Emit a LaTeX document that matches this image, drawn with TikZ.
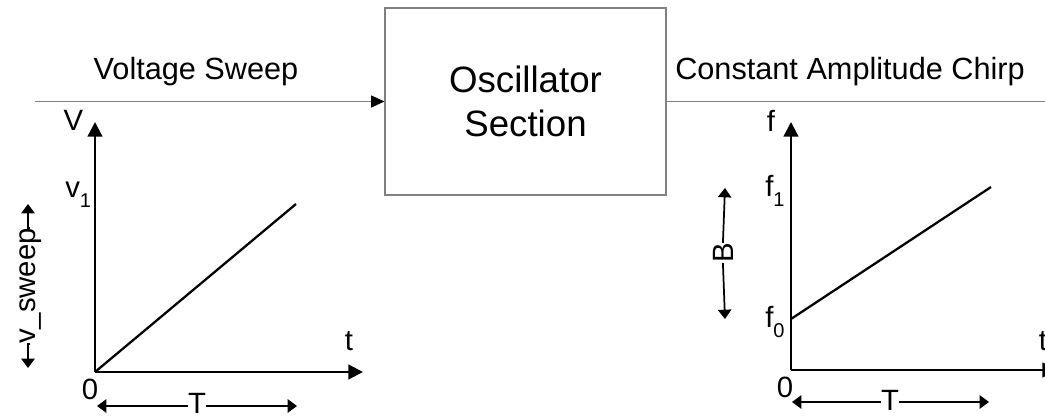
\documentclass[tikz,border=0pt]{standalone}
\usepackage{fontspec}
\setmainfont{Liberation Sans}
\usetikzlibrary{arrows.meta}
\definecolor{wirecol}{gray}{0.5}
\newcommand{\lowsub}[1]{\raisebox{-7pt}{\fontsize{15}{15}\selectfont #1}}

\begin{document}
\begin{tikzpicture}[x=0.75pt,y=-0.75pt]
\tikzstyle{every node}+=[inner sep=0pt]
\tikzstyle{title}=[font=\fontsize{23}{27}\selectfont]
\tikzstyle{lbl}=[font=\fontsize{22}{26}\selectfont]
\tikzstyle{wire}=[draw=wirecol,line width=0.8pt]
\tikzstyle{axis}=[line width=1.7pt,-{Triangle[length=11pt,width=11pt]}]
\tikzstyle{ramp}=[line width=1.7pt]
\tikzstyle{span}=[line width=1.3pt,-{Triangle[length=7pt,width=10pt]}]
\useasboundingbox (0,0) rectangle (1045,416);

\node (osc) [wire,minimum width=210.75pt,minimum height=140.25pt,align=center,font=\fontsize{27.5}{33}\selectfont] at (525.5,101.5) {Oscillator\\Section};
\coordinate (in) at (35,101.5);
\coordinate (out) at (1045,101.5);
\draw [wire,-{Triangle[length=10pt,width=9pt,color=black]}] (in) -- (osc.west);
\draw [wire] (osc.east) -- (out);
\node (sweep) [title,anchor=base] at (196,80) {Voltage Sweep};
\node (chirp) [title,anchor=base] at (850,80) {Constant Amplitude Chirp};

\coordinate (o1) at (95,372);
\coordinate (vtop) at (95,122);
\coordinate (tend1) at (363,372);
\coordinate (vend) at (296,204);
\draw [axis] (o1) -- (vtop);
\draw [axis] (o1) -- (tend1);
\draw [ramp] (o1) -- (vend);
\node (vlab) [lbl] at (73.5,120) {V};
\node (v1lab) [lbl,anchor=base west] at (65,198) {v\lowsub{1}};
\node (tlab1) [lbl] at (349,341) {t};
\node (zero1) [lbl] at (90,389) {0};
\node (T1) [lbl] at (197,403) {T};
\coordinate (T1l) at (97,406);
\coordinate (T1r) at (297,406);
\draw [span] (T1.west |- T1l) -- (T1l);
\draw [span] (T1.east |- T1r) -- (T1r);
\node (vsw) [lbl,rotate=90,anchor=base] at (35,286) {v\_sweep};
\coordinate (vswt) at (28,204);
\coordinate (vswb) at (28,368);
\draw [span] (vsw.east) -- (vsw.east -| vswt) -- (vswt);
\draw [span] (vsw.west) -- (vsw.west -| vswb) -- (vswb);

\coordinate (o2) at (791,370);
\coordinate (ftop) at (791,122);
\coordinate (tend2) at (1057,370);
\coordinate (fstart) at (791,319);
\coordinate (fend) at (991,187);
\draw [axis] (o2) -- (ftop);
\draw [axis] (o2) -- (tend2);
\draw [ramp] (fstart) -- (fend);
\node (flab) [lbl] at (771,121) {f};
\node (f1lab) [lbl,anchor=base west] at (765,197) {f\lowsub{1}};
\node (f0lab) [lbl,anchor=base west] at (765,328) {f\lowsub{0}};
\node (tlab2) [lbl] at (1043,341) {t};
\node (zero2) [lbl] at (785,387) {0};
\node (T2) [lbl] at (890,400) {T};
\coordinate (T2l) at (792,402);
\coordinate (T2r) at (989,402);
\draw [span] (T2.west |- T2l) -- (T2l);
\draw [span] (T2.east |- T2r) -- (T2r);
\node (B) [lbl,rotate=90,anchor=base] at (733,253) {B};
\coordinate (Bt) at (725,188);
\coordinate (Bb) at (725,319);
\draw [span] (B.east) -- (Bt);
\draw [span] (B.west) -- (Bb);
\end{tikzpicture}
\end{document}
